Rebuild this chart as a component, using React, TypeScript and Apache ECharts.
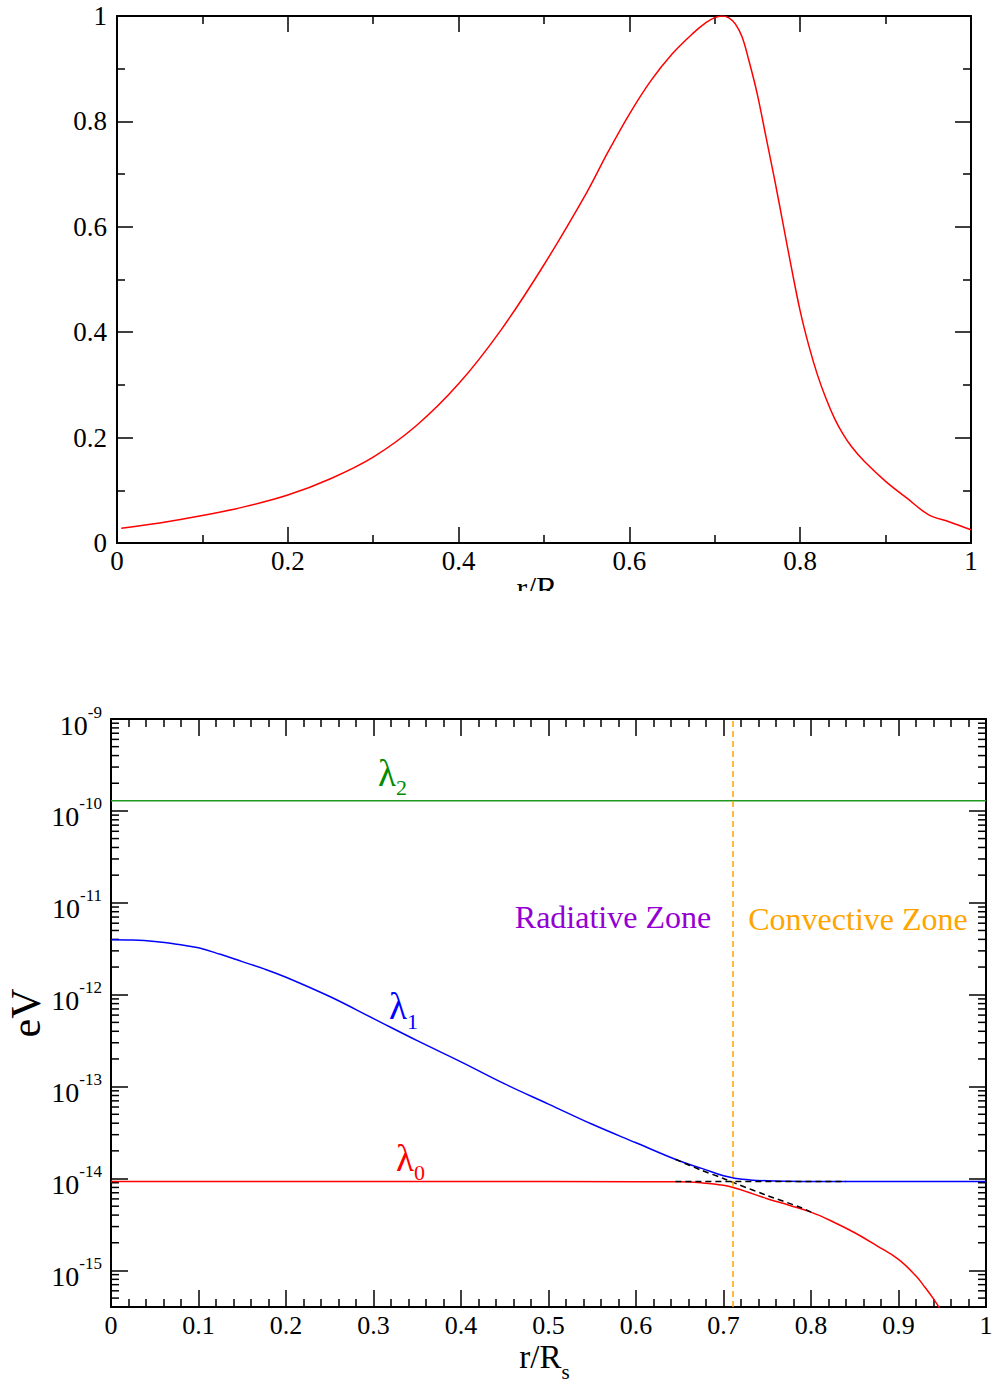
import React, { useEffect, useRef } from 'react';
import * as echarts from 'echarts';

const FONT = 'Liberation Serif';

// ---- Top panel: normalised profile vs r/R ----
const topR = [0.005, 0.05, 0.1, 0.15, 0.2, 0.25, 0.3, 0.35, 0.4, 0.45, 0.5, 0.55, 0.575, 0.6, 0.625, 0.65, 0.675, 0.69, 0.7, 0.708, 0.716, 0.724, 0.732, 0.74, 0.75, 0.76, 0.77, 0.78, 0.79, 0.8, 0.81, 0.82, 0.83, 0.84, 0.85, 0.86, 0.875, 0.9, 0.925, 0.95, 0.975, 1.0];
const topVal = [0.028, 0.038, 0.052, 0.069, 0.091, 0.122, 0.163, 0.222, 0.302, 0.405, 0.528, 0.665, 0.742, 0.814, 0.877, 0.928, 0.968, 0.988, 0.997, 1.0, 0.997, 0.985, 0.96, 0.915, 0.85, 0.77, 0.69, 0.605, 0.52, 0.44, 0.375, 0.32, 0.275, 0.237, 0.207, 0.183, 0.155, 0.117, 0.085, 0.054, 0.04, 0.025];

// ---- Bottom panel: eigenvalues (eV) vs r/R_s ----
const lambda2R = [0, 1];
const lambda2Val = [1.29e-10, 1.29e-10];

const lambda1R = [0, 0.025, 0.05, 0.075, 0.1, 0.125, 0.15, 0.175, 0.2, 0.25, 0.3, 0.35, 0.4, 0.45, 0.5, 0.55, 0.6, 0.65, 0.675, 0.7, 0.715, 0.73, 0.75, 0.775, 0.8, 0.85, 0.9, 1.0];
const lambda1Val = [3.96e-12, 3.93e-12, 3.8e-12, 3.55e-12, 3.24e-12, 2.75e-12, 2.29e-12, 1.91e-12, 1.55e-12, 9.55e-13, 5.5e-13, 3.16e-13, 1.86e-13, 1.07e-13, 6.46e-14, 3.89e-14, 2.45e-14, 1.55e-14, 1.29e-14, 1.07e-14, 1.0e-14, 9.66e-15, 9.44e-15, 9.34e-15, 9.29e-15, 9.27e-15, 9.27e-15, 9.27e-15];

const lambda0R = [0, 0.2, 0.4, 0.6, 0.65, 0.675, 0.7, 0.715, 0.75, 0.775, 0.8, 0.825, 0.85, 0.875, 0.9, 0.92, 0.93, 0.94, 0.95];
const lambda0Val = [9.27e-15, 9.27e-15, 9.27e-15, 9.25e-15, 9.2e-15, 8.97e-15, 8.45e-15, 7.8e-15, 6.03e-15, 5.13e-15, 4.31e-15, 3.39e-15, 2.57e-15, 1.86e-15, 1.32e-15, 8.7e-16, 6.6e-16, 4.9e-16, 3.5e-16];

const diabDiagR = [0.645, 0.673, 0.7, 0.715, 0.75, 0.789, 0.8];
const diabDiagVal = [1.62e-14, 1.25e-14, 1.0e-14, 8.75e-15, 6.53e-15, 4.81e-15, 4.31e-15];

const diabFlatR = [0.645, 0.84];
const diabFlatVal = [9.27e-15, 9.27e-15];

const convectiveBoundary = 0.713;

// axis ranges / tick structure
const logMin = 4e-16;
const logMax = 1e-9;
const minorDecades = [1e-16, 1e-15, 1e-14, 1e-13, 1e-12, 1e-11, 1e-10];
const minorMultipliers = [2, 3, 4, 5, 6, 7, 8, 9];

const zip = (xs: number[], ys: number[]) => xs.map((x, i) => [x, ys[i]]);

const AXIS_LINE = { show: true, onZero: false, lineStyle: { color: '#000', width: 2 } };
const TICK = (len: number) => ({ show: true, inside: true, length: len, lineStyle: { color: '#000', width: 1.5 } });
const MINOR = (n: number) => ({ show: true, splitNumber: n, length: 8, lineStyle: { color: '#000', width: 1.5 } });

export default function App() {
  const ref = useRef<HTMLDivElement>(null);
  useEffect(() => {
    if (!ref.current) return;
    const chart = echarts.init(ref.current, undefined, { renderer: 'svg' });

    const minorLogTicks: number[][] = [];
    minorDecades.forEach((d) => minorMultipliers.forEach((m) => {
      const v = m * d;
      if (v > logMin * 1.01 && v < logMax) minorLogTicks.push([0, v]);
    }));

    const labelStyle = { fontFamily: FONT, fontSize: 26, color: '#000' };

    const option: any = {
      animation: false,
      textStyle: { fontFamily: FONT },
      grid: [
        { left: 117, top: 16, width: 854, height: 527, containLabel: false, outerBoundsMode: 'none' },
        { left: 111, top: 719, width: 875, height: 588, containLabel: false, outerBoundsMode: 'none' },
      ],
      xAxis: [
        {
          type: 'value', gridIndex: 0, position: 'bottom', min: 0, max: 1, interval: 0.2,
          axisLine: AXIS_LINE, axisTick: TICK(16), minorTick: MINOR(2), splitLine: { show: false },
          axisLabel: { ...labelStyle, fontSize: 27, margin: 4 },
          name: 'r/R', nameLocation: 'middle', nameGap: 29, nameMoveOverlap: false,
          nameTextStyle: { fontFamily: FONT, fontSize: 32, color: '#000', padding: [0, 14, 0, 0] },
        },
        {
          type: 'value', gridIndex: 0, position: 'top', min: 0, max: 1, interval: 0.2,
          axisLine: AXIS_LINE, axisTick: TICK(16), minorTick: MINOR(2), splitLine: { show: false },
          axisLabel: { show: false },
        },
        {
          type: 'value', gridIndex: 1, position: 'bottom', min: 0, max: 1, interval: 0.1,
          axisLine: AXIS_LINE, axisTick: TICK(17), minorTick: MINOR(5), splitLine: { show: false },
          axisLabel: { ...labelStyle, margin: 5 },
          name: '{m|r/R}{sub|s}', nameLocation: 'middle', nameGap: 24, nameMoveOverlap: false,
          nameTextStyle: {
            fontFamily: FONT, fontSize: 33, color: '#000', padding: [0, 8, 0, 0],
            rich: {
              m: { fontFamily: FONT, fontSize: 33, color: '#000' },
              sub: { fontFamily: FONT, fontSize: 21, color: '#000', padding: [30, 0, 0, 0] },
            },
          },
        },
        {
          type: 'value', gridIndex: 1, position: 'top', min: 0, max: 1, interval: 0.1,
          axisLine: AXIS_LINE, axisTick: TICK(17), minorTick: MINOR(5), splitLine: { show: false },
          axisLabel: { show: false },
        },
      ],
      yAxis: [
        {
          type: 'value', gridIndex: 0, position: 'left', min: 0, max: 1, interval: 0.2,
          axisLine: AXIS_LINE, axisTick: TICK(16), minorTick: MINOR(2), splitLine: { show: false },
          axisLabel: { ...labelStyle, fontSize: 27, margin: 10 },
        },
        {
          type: 'value', gridIndex: 0, position: 'right', min: 0, max: 1, interval: 0.2,
          axisLine: AXIS_LINE, axisTick: TICK(16), minorTick: MINOR(2), splitLine: { show: false },
          axisLabel: { show: false },
        },
        {
          type: 'log', logBase: 10, gridIndex: 1, position: 'left', min: logMin, max: logMax,
          axisLine: AXIS_LINE, axisTick: TICK(17), splitLine: { show: false },
          axisLabel: {
            margin: 9, showMinLabel: false,
            formatter: (v: number) => `{b|10}{s|${Math.round(Math.log10(v))}}`,
            rich: {
              b: { fontFamily: FONT, fontSize: 28, color: '#000', padding: [12, 0, 0, 0] },
              s: { fontFamily: FONT, fontSize: 17, color: '#000', padding: [0, 0, 14, 0] },
            },
          },
          name: 'eV', nameLocation: 'middle', nameGap: 64, nameMoveOverlap: false,
          nameTextStyle: { fontFamily: FONT, fontSize: 42, color: '#000' },
        },
        {
          type: 'log', logBase: 10, gridIndex: 1, position: 'right', min: logMin, max: logMax,
          axisLine: AXIS_LINE, axisTick: TICK(17), splitLine: { show: false },
          axisLabel: { show: false },
        },
      ],
      series: [
        {
          type: 'line', xAxisIndex: 0, yAxisIndex: 0, data: zip(topR, topVal),
          showSymbol: false, smooth: 0.35, lineStyle: { color: '#ff0000', width: 1.5 }, itemStyle: { color: '#ff0000' },
        },
        {
          name: 'λ2', type: 'line', xAxisIndex: 2, yAxisIndex: 2, data: zip(lambda2R, lambda2Val),
          showSymbol: false, lineStyle: { color: '#1f9a1f', width: 1.6 }, itemStyle: { color: '#1f9a1f' },
        },
        {
          name: 'λ1', type: 'line', xAxisIndex: 2, yAxisIndex: 2, data: zip(lambda1R, lambda1Val),
          showSymbol: false, smooth: 0.4, lineStyle: { color: '#0000ff', width: 1.5 }, itemStyle: { color: '#0000ff' },
        },
        {
          name: 'λ0', type: 'line', xAxisIndex: 2, yAxisIndex: 2, data: zip(lambda0R, lambda0Val),
          showSymbol: false, smooth: 0.4, lineStyle: { color: '#ff0000', width: 1.5 }, itemStyle: { color: '#ff0000' },
          markLine: {
            silent: true, symbol: ['none', 'none'], label: { show: false },
            lineStyle: { color: '#ffa500', width: 1.5, type: [6, 4] },
            data: [{ xAxis: convectiveBoundary }],
          },
        },
        {
          type: 'line', xAxisIndex: 2, yAxisIndex: 2, data: zip(diabDiagR, diabDiagVal),
          showSymbol: false, smooth: 0.3, z: 3, lineStyle: { color: '#000', width: 1.5, type: [6, 4] },
        },
        {
          type: 'line', xAxisIndex: 2, yAxisIndex: 2, data: zip(diabFlatR, diabFlatVal),
          showSymbol: false, z: 3, lineStyle: { color: '#000', width: 1.5, type: [6, 4] },
        },
        {
          type: 'custom', xAxisIndex: 2, yAxisIndex: 2, silent: true, clip: false,
          data: minorLogTicks,
          renderItem: (params: any, api: any) => {
            const v = api.value(1);
            const pL = api.coord([0, v]);
            const pR = api.coord([1, v]);
            const st = { stroke: '#000', lineWidth: 1.5 };
            return {
              type: 'group',
              children: [
                { type: 'line', shape: { x1: pL[0], y1: pL[1], x2: pL[0] + 8, y2: pL[1] }, style: st },
                { type: 'line', shape: { x1: pR[0], y1: pR[1], x2: pR[0] - 8, y2: pR[1] }, style: st },
              ],
            };
          },
        },
      ],
      graphic: [
        {
          type: 'rect', z: 100, shape: { x: 440, y: 591, width: 200, height: 60 },
          style: { fill: '#fff' },
        },
        {
          type: 'text', x: 378, y: 773, z: 50,
          style: {
            text: '{l|λ}{s|2}', verticalAlign: 'middle', align: 'left',
            rich: {
              l: { fontFamily: FONT, fontSize: 37, fill: '#008b00' },
              s: { fontFamily: FONT, fontSize: 22, fill: '#008b00', padding: [29, 0, 0, 0] },
            },
          },
        },
        {
          type: 'text', x: 389, y: 1006, z: 50,
          style: {
            text: '{l|λ}{s|1}', verticalAlign: 'middle', align: 'left',
            rich: {
              l: { fontFamily: FONT, fontSize: 37, fill: '#0000ff' },
              s: { fontFamily: FONT, fontSize: 22, fill: '#0000ff', padding: [30, 0, 0, 0] },
            },
          },
        },
        {
          type: 'text', x: 396, y: 1158, z: 50,
          style: {
            text: '{l|λ}{s|0}', verticalAlign: 'middle', align: 'left',
            rich: {
              l: { fontFamily: FONT, fontSize: 37, fill: '#ff0000' },
              s: { fontFamily: FONT, fontSize: 22, fill: '#ff0000', padding: [28, 0, 0, 0] },
            },
          },
        },
        {
          type: 'text', x: 613, y: 917, z: 50,
          style: { text: 'Radiative Zone', fontFamily: FONT, fontSize: 32, fill: '#9400d3', align: 'center', verticalAlign: 'middle' },
        },
        {
          type: 'text', x: 858, y: 919, z: 50,
          style: { text: 'Convective Zone', fontFamily: FONT, fontSize: 32, fill: '#ffa500', align: 'center', verticalAlign: 'middle' },
        },
      ],
    };

    chart.setOption(option);
    return () => chart.dispose();
  }, []);

  return <div ref={ref} style={{ position: 'absolute', left: 0, top: 0, width: 992, height: 1383, background: '#fff' }} />;
}
